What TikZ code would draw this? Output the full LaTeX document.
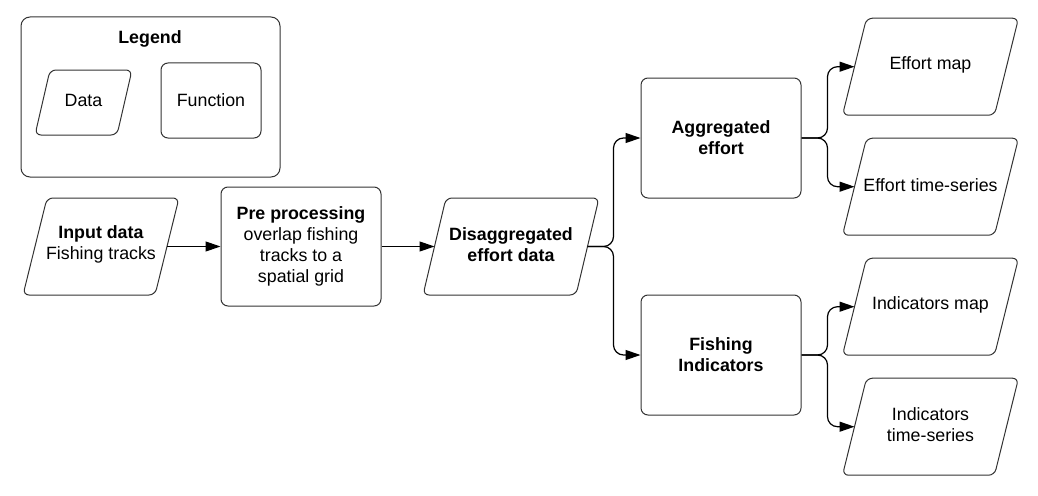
\documentclass[tikz,border=0pt]{standalone}
\usepackage{fontspec}
\setmainfont{Liberation Sans}
\usetikzlibrary{arrows.meta,calc}
\newcommand\datashape[7]{%
  \node[txt] (#1) at (#2,{#3-2}) {#7};
  \draw[shp] ({#2-#4/2-#6/2},{#3+#5/2}) -- ({#2-#4/2+#6/2},{#3-#5/2}) -- ({#2+#4/2+#6/2},{#3-#5/2}) -- ({#2+#4/2-#6/2},{#3+#5/2}) -- cycle;
  \coordinate (#1-in) at ({#2-#4/2},#3);
  \coordinate (#1-out) at ({#2+#4/2},#3);
}
\begin{document}
\begin{tikzpicture}[x=1pt,y=-1pt,
  txt/.style={align=center, inner sep=0pt, font=\fontsize{17.8}{21}\selectfont},
  shp/.style={draw=black!80, line width=1pt, rounded corners=6pt},
  func/.style={draw=black!80, line width=1pt, rounded corners=7pt, align=center,
    inner sep=0pt, font=\fontsize{17.8}{21}\selectfont},
  arr/.style={draw=black, line width=1.2pt, -{Triangle[length=15pt,width=10pt]}},
  conn/.style={arr, rounded corners=10pt}]
\useasboundingbox (0,0) rectangle (1038,495);
% legend
\node[func, minimum width=259pt, minimum height=160pt, rounded corners=9pt] (legend) at (150.5,97) {};
\node[txt, font=\fontsize{17.8}{21}\selectfont\bfseries] (legendtitle) at (150,39) {Legend};
\datashape{ldata}{83.5}{102.5}{82}{65}{15}{Data}
\node[func, minimum width=100pt, minimum height=75pt] (lfunc) at (211,100.5) {Function};
% main chain
\datashape{inp}{101}{246.5}{132}{97}{24}{\textbf{Input data}\\Fishing tracks}
\node[func, minimum width=160pt, minimum height=119pt] (pre) at (301,246.5)
  {\textbf{Pre processing}\\overlap fishing\\tracks to a\\spatial grid};
\datashape{dis}{511}{246.5}{153}{97}{23}{\textbf{Disaggregated}\\\textbf{effort data}}
\node[func, minimum width=160pt, minimum height=120pt] (agg) at (721,138)
  {\textbf{Aggregated}\\\textbf{effort}};
\node[func, minimum width=160pt, minimum height=120pt] (ind) at (721,355)
  {\textbf{Fishing}\\\textbf{Indicators}};
\datashape{emap}{930.5}{66.7}{152}{97}{24}{Effort map}
\datashape{ets}{930.5}{186.7}{152}{97}{24}{Effort time-series}
\datashape{imap}{930.5}{306.7}{152}{97}{24}{Indicators map}
\datashape{its}{930.5}{426.7}{152}{97}{24}{Indicators\\time-series}
% connectors
\draw[arr] (inp-out) -- (pre.west);
\draw[arr] (pre.east) -- (dis-in);
\draw[conn] (dis-out) -- ($(dis-out)+(26,0)$) |- (agg.west);
\draw[conn] (dis-out) -- ($(dis-out)+(26,0)$) |- (ind.west);
\draw[conn] (agg.east) -- ($(agg.east)+(26,0)$) |- (emap-in);
\draw[conn] (agg.east) -- ($(agg.east)+(26,0)$) |- (ets-in);
\draw[conn] (ind.east) -- ($(ind.east)+(26,0)$) |- (imap-in);
\draw[conn] (ind.east) -- ($(ind.east)+(26,0)$) |- (its-in);
\end{tikzpicture}
\end{document}
